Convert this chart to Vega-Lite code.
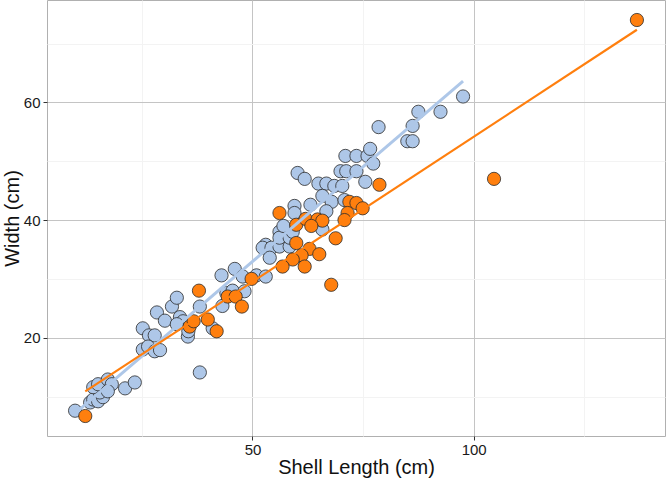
{
  "$schema": "https://vega.github.io/schema/vega-lite/v6.json",
  "width": 618,
  "height": 436,
  "autosize": {"type": "none"},
  "padding": {"left": 47, "top": 0, "right": 1, "bottom": 45},
  "background": "white",
  "config": {
    "font": "Liberation Sans",
    "view": {"stroke": "#b0b0b0", "strokeWidth": 1},
    "axis": {
      "domain": false,
      "labelFont": "Liberation Sans",
      "titleFont": "Liberation Sans",
      "labelFontSize": 15,
      "titleFontSize": 20,
      "titleFontWeight": "normal",
      "labelColor": "#1a1a1a",
      "titleColor": "#111111",
      "tickSize": 4,
      "tickWidth": 1
    }
  },
  "data": {
    "values": [
      {"length": 9.9, "width": 7.6, "group": "A"},
      {"length": 13.3, "width": 9.0, "group": "A"},
      {"length": 14.0, "width": 9.5, "group": "A"},
      {"length": 15.1, "width": 9.2, "group": "A"},
      {"length": 16.2, "width": 9.9, "group": "A"},
      {"length": 15.5, "width": 10.7, "group": "A"},
      {"length": 14.0, "width": 11.6, "group": "A"},
      {"length": 15.1, "width": 12.1, "group": "A"},
      {"length": 17.3, "width": 12.9, "group": "A"},
      {"length": 18.2, "width": 12.1, "group": "A"},
      {"length": 17.3, "width": 10.9, "group": "A"},
      {"length": 21.2, "width": 11.4, "group": "A"},
      {"length": 23.4, "width": 12.4, "group": "A"},
      {"length": 25.2, "width": 21.6, "group": "A"},
      {"length": 26.6, "width": 20.4, "group": "A"},
      {"length": 27.9, "width": 20.4, "group": "A"},
      {"length": 25.2, "width": 18.0, "group": "A"},
      {"length": 26.4, "width": 18.5, "group": "A"},
      {"length": 27.9, "width": 17.7, "group": "A"},
      {"length": 29.1, "width": 17.9, "group": "A"},
      {"length": 28.4, "width": 24.3, "group": "A"},
      {"length": 30.2, "width": 22.9, "group": "A"},
      {"length": 31.8, "width": 25.3, "group": "A"},
      {"length": 32.9, "width": 26.8, "group": "A"},
      {"length": 33.6, "width": 23.5, "group": "A"},
      {"length": 34.3, "width": 22.8, "group": "A"},
      {"length": 32.9, "width": 22.3, "group": "A"},
      {"length": 35.4, "width": 20.2, "group": "A"},
      {"length": 35.5, "width": 21.1, "group": "A"},
      {"length": 38.1, "width": 14.1, "group": "A"},
      {"length": 38.1, "width": 25.3, "group": "A"},
      {"length": 41.0, "width": 21.6, "group": "A"},
      {"length": 43.0, "width": 30.6, "group": "A"},
      {"length": 46.0, "width": 31.7, "group": "A"},
      {"length": 44.1, "width": 27.6, "group": "A"},
      {"length": 43.2, "width": 25.4, "group": "A"},
      {"length": 45.5, "width": 28.0, "group": "A"},
      {"length": 48.2, "width": 27.9, "group": "A"},
      {"length": 47.8, "width": 30.4, "group": "A"},
      {"length": 50.9, "width": 30.6, "group": "A"},
      {"length": 53.0, "width": 30.4, "group": "A"},
      {"length": 53.0, "width": 35.8, "group": "A"},
      {"length": 52.3, "width": 35.3, "group": "A"},
      {"length": 54.3, "width": 35.3, "group": "A"},
      {"length": 56.1, "width": 35.5, "group": "A"},
      {"length": 58.4, "width": 35.5, "group": "A"},
      {"length": 53.9, "width": 33.6, "group": "A"},
      {"length": 56.1, "width": 38.0, "group": "A"},
      {"length": 56.1, "width": 37.0, "group": "A"},
      {"length": 58.4, "width": 37.0, "group": "A"},
      {"length": 59.1, "width": 38.0, "group": "A"},
      {"length": 59.5, "width": 42.4, "group": "A"},
      {"length": 59.5, "width": 41.2, "group": "A"},
      {"length": 63.1, "width": 42.6, "group": "A"},
      {"length": 60.2, "width": 48.0, "group": "A"},
      {"length": 61.8, "width": 47.0, "group": "A"},
      {"length": 64.9, "width": 46.2, "group": "A"},
      {"length": 66.7, "width": 46.2, "group": "A"},
      {"length": 68.5, "width": 45.8, "group": "A"},
      {"length": 70.3, "width": 45.8, "group": "A"},
      {"length": 65.8, "width": 44.1, "group": "A"},
      {"length": 67.9, "width": 43.1, "group": "A"},
      {"length": 70.8, "width": 43.4, "group": "A"},
      {"length": 66.7, "width": 41.5, "group": "A"},
      {"length": 65.1, "width": 39.7, "group": "A"},
      {"length": 65.8, "width": 38.4, "group": "A"},
      {"length": 69.9, "width": 48.3, "group": "A"},
      {"length": 71.2, "width": 48.3, "group": "A"},
      {"length": 73.5, "width": 48.3, "group": "A"},
      {"length": 75.5, "width": 46.5, "group": "A"},
      {"length": 71.0, "width": 50.9, "group": "A"},
      {"length": 73.5, "width": 50.9, "group": "A"},
      {"length": 76.0, "width": 50.9, "group": "A"},
      {"length": 77.3, "width": 49.6, "group": "A"},
      {"length": 76.6, "width": 52.1, "group": "A"},
      {"length": 78.5, "width": 55.8, "group": "A"},
      {"length": 85.0, "width": 53.4, "group": "A"},
      {"length": 86.2, "width": 53.4, "group": "A"},
      {"length": 86.2, "width": 56.0, "group": "A"},
      {"length": 87.5, "width": 58.4, "group": "A"},
      {"length": 92.5, "width": 58.4, "group": "A"},
      {"length": 97.6, "width": 61.0, "group": "A"},
      {"length": 57.0, "width": 39.0, "group": "A"},
      {"length": 12.2, "width": 6.7, "group": "B"},
      {"length": 37.9, "width": 28.0, "group": "B"},
      {"length": 35.8, "width": 21.9, "group": "B"},
      {"length": 36.7, "width": 22.8, "group": "B"},
      {"length": 39.9, "width": 23.1, "group": "B"},
      {"length": 41.9, "width": 21.1, "group": "B"},
      {"length": 44.4, "width": 27.0, "group": "B"},
      {"length": 46.2, "width": 27.0, "group": "B"},
      {"length": 47.6, "width": 25.3, "group": "B"},
      {"length": 49.8, "width": 30.0, "group": "B"},
      {"length": 56.1, "width": 41.2, "group": "B"},
      {"length": 59.9, "width": 39.2, "group": "B"},
      {"length": 62.0, "width": 40.2, "group": "B"},
      {"length": 64.7, "width": 40.1, "group": "B"},
      {"length": 65.8, "width": 39.9, "group": "B"},
      {"length": 63.3, "width": 39.0, "group": "B"},
      {"length": 71.9, "width": 43.1, "group": "B"},
      {"length": 73.5, "width": 42.9, "group": "B"},
      {"length": 74.9, "width": 42.0, "group": "B"},
      {"length": 71.5, "width": 41.2, "group": "B"},
      {"length": 70.8, "width": 40.0, "group": "B"},
      {"length": 68.8, "width": 36.9, "group": "B"},
      {"length": 59.9, "width": 36.1, "group": "B"},
      {"length": 62.9, "width": 35.1, "group": "B"},
      {"length": 65.1, "width": 34.2, "group": "B"},
      {"length": 61.1, "width": 34.0, "group": "B"},
      {"length": 59.1, "width": 33.3, "group": "B"},
      {"length": 61.8, "width": 32.1, "group": "B"},
      {"length": 56.8, "width": 32.1, "group": "B"},
      {"length": 67.8, "width": 29.0, "group": "B"},
      {"length": 78.7, "width": 46.0, "group": "B"},
      {"length": 104.6, "width": 47.0, "group": "B"},
      {"length": 136.9, "width": 74.0, "group": "B"}
    ]
  },
  "encoding": {
    "x": {
      "field": "length",
      "type": "quantitative",
      "title": "Shell Length (cm)",
      "scale": {"domain": [3.55, 143.25], "nice": false, "zero": false},
      "axis": {
        "values": [25, 50, 75, 100, 125],
        "labelExpr": "datum.value % 50 === 0 ? datum.label : ''",
        "gridColor": {"condition": {"test": "datum.value % 50 === 0", "value": "#c4c4c4"}, "value": "#f3f3f3"},
        "tickColor": {"condition": {"test": "datum.value % 50 === 0", "value": "#333333"}, "value": "transparent"},
        "labelPadding": 2,
        "titlePadding": 0
      }
    },
    "y": {
      "field": "width",
      "type": "quantitative",
      "title": "Width (cm)",
      "scale": {"domain": [3.3, 77.4], "nice": false, "zero": false},
      "axis": {
        "values": [10, 20, 30, 40, 50, 60, 70],
        "labelExpr": "datum.value % 20 === 0 ? datum.label : ''",
        "gridColor": {"condition": {"test": "datum.value % 20 === 0", "value": "#c4c4c4"}, "value": "#f3f3f3"},
        "tickColor": {"condition": {"test": "datum.value % 20 === 0", "value": "#333333"}, "value": "transparent"},
        "labelPadding": 3,
        "titlePadding": 1
      }
    },
    "color": {
      "field": "group",
      "type": "nominal",
      "scale": {"domain": ["A", "B"], "range": ["#aec7e8", "#ff7f0e"]},
      "legend": null
    }
  },
  "layer": [
    {
      "mark": {"type": "point", "filled": true, "shape": "circle", "size": 175, "stroke": "#2b2b2b", "strokeWidth": 0.8, "opacity": 1}
    },
    {
      "transform": [
        {"regression": "width", "on": "length", "groupby": ["group"]}
      ],
      "mark": {"type": "line"},
      "encoding": {
        "strokeWidth": {
          "field": "group",
          "type": "nominal",
          "scale": {"domain": ["A", "B"], "range": [3, 2.2]},
          "legend": null
        }
      }
    }
  ]
}
